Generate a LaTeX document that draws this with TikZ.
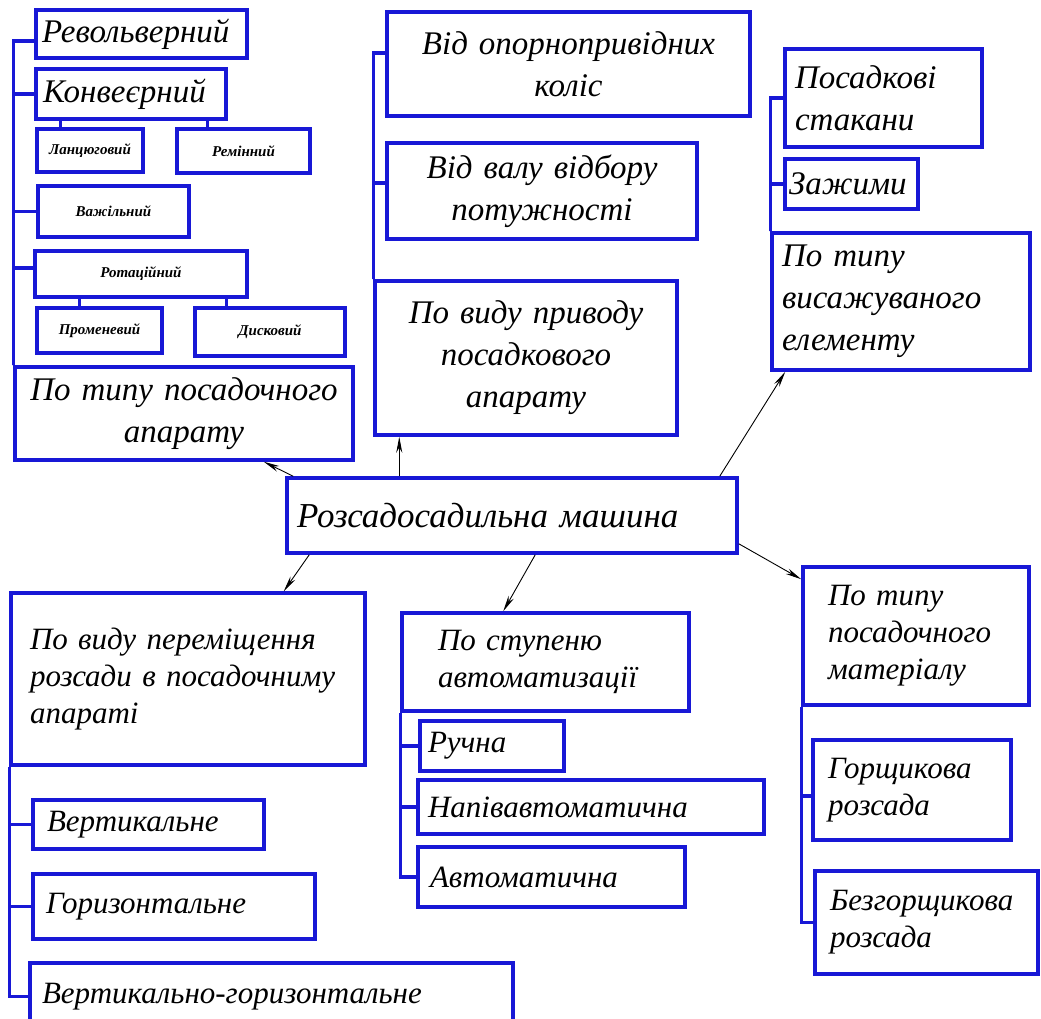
\documentclass[tikz,border=0pt]{standalone}
\usepackage{fontspec}
\setmainfont{Liberation Serif}
\usepackage{tikz}
\usetikzlibrary{arrows.meta}
\definecolor{boxblue}{RGB}{24,24,214}

\begin{document}
\begin{tikzpicture}[x=1pt, y=-1pt, >={Stealth[length=16pt, width=6pt]},
    box/.style={draw=boxblue, line width=3.5pt, fill=white, inner ysep=0pt},
    boxsize/.style 2 args={minimum width=#1pt, minimum height=#2pt},
    tree/.style={draw=boxblue, line width=3.5pt},
    arr/.style={->, black, line width=0.9pt},
    bigtxt/.style={font=\itshape\fontsize{33}{42}\selectfont},
    midtxt/.style={font=\itshape\fontsize{31}{37}\selectfont},
    smalltxt/.style={font=\bfseries\itshape\fontsize{15}{18}\selectfont}]
    \useasboundingbox (0,0) rectangle (1041,1019);

    % Centre
    \node[box, font=\itshape\fontsize{35}{42}\selectfont, boxsize={450}{75}, text width=430pt, inner xsep=10pt, align=left] (main) at (512,515.5) {Розсадосадильна машина};

    % Type of planting unit
    \node[box, bigtxt, boxsize={338}{93}, text width=330pt, inner xsep=4pt, align=center] (typap) at (184,413.5) {По типу посадочного\\апарату};
    \node[box, bigtxt, boxsize={211}{48}, text width=199pt, inner xsep=6pt, align=left] (revol) at (141.5,34) {Револьверний};
    \node[box, bigtxt, boxsize={190}{50}, text width=176pt, inner xsep=7pt, align=left] (konv) at (131,94) {Конвеєрний};
    \node[box, smalltxt, boxsize={106}{43}, text width=100pt, inner xsep=3pt, align=center] (lanc) at (90,150.5) {Ланцюговий};
    \node[box, smalltxt, boxsize={133}{44}, text width=127pt, inner xsep=3pt, align=center] (remin) at (243.5,151) {Ремінний};
    \node[box, smalltxt, boxsize={151}{51}, text width=145pt, inner xsep=3pt, align=center] (vazh) at (113.5,211.5) {Важільний};
    \node[box, smalltxt, boxsize={212}{46}, text width=206pt, inner xsep=3pt, align=center] (rotac) at (141,274) {Ротаційний};
    \node[box, smalltxt, boxsize={125}{45}, text width=119pt, inner xsep=3pt, align=center] (promen) at (99.5,330.5) {Променевий};
    \node[box, smalltxt, boxsize={150}{48}, text width=144pt, inner xsep=3pt, align=center] (diskov) at (270,332) {Дисковий};

    \draw[tree] (typap.north west) |- ([yshift=-7pt]revol.west);
    \draw[tree] (typap.north west) |- (konv.west);
    \draw[tree] (typap.north west) |- (vazh.west);
    \draw[tree] (typap.north west) |- ([yshift=6pt]rotac.west);
    \draw[tree] ([xshift=25pt]lanc.north west) -- ([xshift=25pt]lanc.north west |- konv.south);
    \draw[tree] ([xshift=32pt]remin.north west) -- ([xshift=32pt]remin.north west |- konv.south);
    \draw[tree] ([xshift=44pt]promen.north west) -- ([xshift=44pt]promen.north west |- rotac.south);
    \draw[tree] ([xshift=33pt]diskov.north west) -- ([xshift=33pt]diskov.north west |- rotac.south);

    % Drive of planting unit
    \node[box, bigtxt, boxsize={302}{154}, text width=294pt, inner xsep=4pt, align=center] (priv) at (526,358) {По виду приводу\\посадкового\\апарату};
    \node[box, bigtxt, boxsize={363}{104}, text width=355pt, inner xsep=4pt, align=center] (opor) at (568.5,64) {Від опорнопривідних\\коліс};
    \node[box, bigtxt, boxsize={310}{96}, text width=302pt, inner xsep=4pt, align=center] (valu) at (542,191) {Від валу відбору\\потужності};

    \draw[tree] (priv.north west) |- ([yshift=11pt]opor.west);
    \draw[tree] (priv.north west) |- ([yshift=8pt]valu.west);

    % Planted element
    \node[box, bigtxt, boxsize={258}{137}, text width=238pt, inner xsep=10pt, align=left] (vys) at (901,301.5) {По типу\\висажуваного\\елементу};
    \node[box, bigtxt, boxsize={197}{98}, text width=177pt, inner xsep=10pt, align=left] (stak) at (883.5,98) {Посадкові\\стакани};
    \node[box, bigtxt, boxsize={133}{50}, text width=125pt, inner xsep=4pt, align=left] (zazh) at (851.5,184) {Зажими};

    \draw[tree] (vys.north west) |- (stak.west);
    \draw[tree] (vys.north west) |- (zazh.west);

    % Seedling movement
    \node[box, midtxt, boxsize={354}{172}, text width=316pt, inner xsep=19pt, align=left] (perem) at (188,679) {По виду переміщення\\розсади в посадочниму\\апараті};
    \node[box, midtxt, boxsize={231}{49}, text width=203pt, inner xsep=14pt, align=left] (vert) at (148.5,824.5) {Вертикальне};
    \node[box, midtxt, boxsize={282}{65}, text width=256pt, inner xsep=13pt, align=left] (goriz) at (174,906.5) {Горизонтальне};
    \node[box, midtxt, boxsize={483}{67}, text width=459pt, inner xsep=12pt, align=left] (vg) at (271.5,996.5) {Вертикально-горизонтальне};

    \draw[tree] (perem.south west) |- (vert.west);
    \draw[tree] (perem.south west) |- (goriz.west);
    \draw[tree] (perem.south west) |- (vg.west);

    % Automation
    \node[box, midtxt, boxsize={287}{98}, text width=215pt, inner xsep=36pt, align=left] (step) at (545.5,662) {По ступеню\\автоматизації};
    \node[box, midtxt, boxsize={144}{50}, text width=128pt, inner xsep=8pt, align=left] (ruch) at (492,746) {Ручна};
    \node[box, midtxt, boxsize={346}{54}, text width=326pt, inner xsep=10pt, align=left] (napiv) at (591,807) {Напівавтоматична};
    \node[box, midtxt, boxsize={267}{60}, text width=243pt, inner xsep=12pt, align=left] (avto) at (551.5,877) {Автоматична};

    \draw[tree] (step.south west) |- (ruch.west);
    \draw[tree] (step.south west) |- (napiv.west);
    \draw[tree] (step.south west) |- (avto.west);

    % Planting material
    \node[box, midtxt, boxsize={226}{138}, text width=176pt, inner xsep=25pt, align=left] (mat) at (916,636) {По типу\\посадочного\\матеріалу};
    \node[box, midtxt, boxsize={198}{100}, text width=168pt, inner xsep=15pt, align=left] (gorsh) at (912,790) {Горщикова\\розсада};
    \node[box, midtxt, boxsize={223}{103}, text width=193pt, inner xsep=15pt, align=left] (bezg) at (926.5,922.5) {Безгорщикова\\розсада};

    \draw[tree] (mat.south west) |- ([yshift=-6pt]gorsh.west);
    \draw[tree] (mat.south west) |- (bezg.west);

    % Arrows from centre
    \draw[arr] ([xshift=8pt]main.north west) -- ([xshift=-91pt]typap.south east);
    \draw[arr] ([xshift=26pt]priv.south west |- main.north) -- ([xshift=26pt]priv.south west);
    \draw[arr] ([xshift=-19pt]main.north east) -- ([xshift=15pt]vys.south west);
    \draw[arr] ([xshift=24pt]main.south west) -- ([xshift=-83pt]perem.north east);
    \draw[arr] ([xshift=250pt]main.south west) -- ([xshift=103pt]step.north west);
    \draw[arr] ([yshift=11pt]main.south east) -- ([yshift=-14pt]mat.north west);
  \end{tikzpicture}
\end{document}
